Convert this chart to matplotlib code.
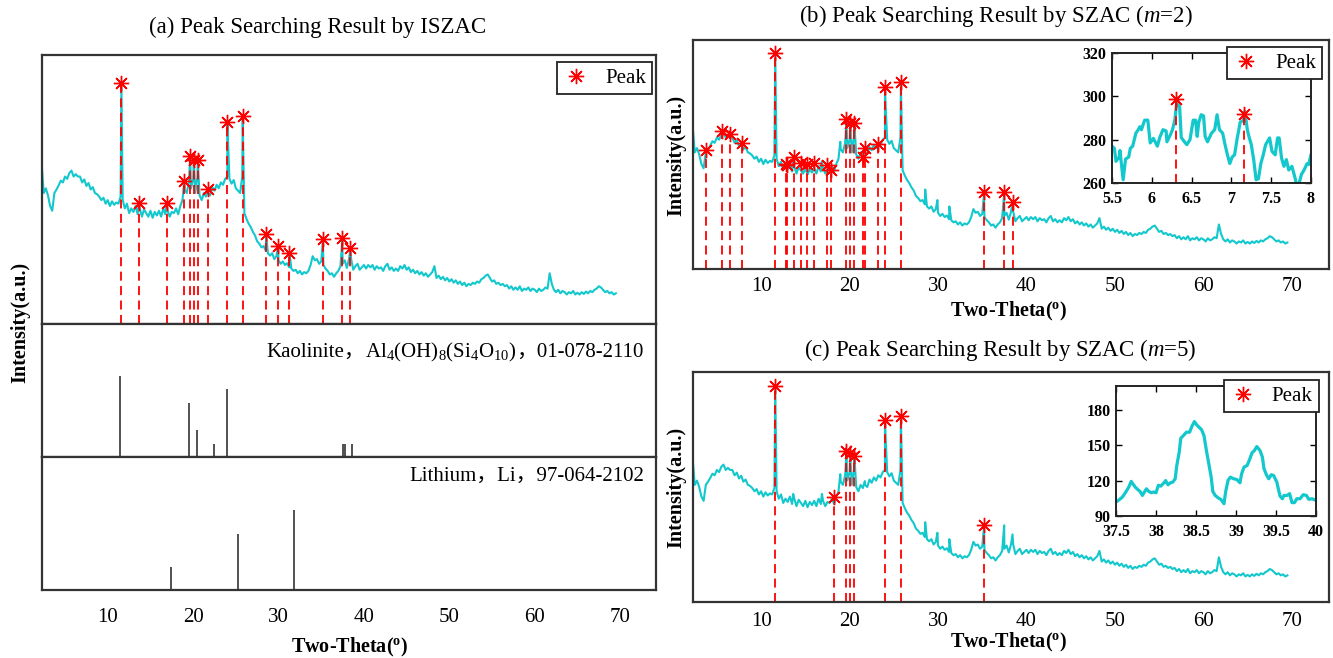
import numpy as np
import matplotlib
matplotlib.use("Agg")
import matplotlib.pyplot as plt
from matplotlib.offsetbox import TextArea, HPacker, AnchoredOffsetbox

plt.rcParams['font.family'] = ['Liberation Serif', 'Noto Sans CJK SC']
plt.rcParams['mathtext.fontset'] = 'custom'
plt.rcParams['mathtext.rm'] = 'Liberation Serif'
plt.rcParams['mathtext.it'] = 'Liberation Serif:italic'
plt.rcParams['mathtext.bf'] = 'Liberation Serif:bold'

# XRD pattern, 0.25 deg steps from 2.25 deg (one row per degree)
base_y = [
    314, 262, 270, 258,   240, 232, 262, 268,   275, 283, 280, 290,   286, 296, 300, 290,
    294, 290, 290, 280,   285, 274, 279, 268,   272, 262, 260, 256,   250, 254, 244, 250,
    240, 248, 242, 246,   244, 256, 250, 236,   244, 228, 236, 230,   240, 226, 236, 222,
    234, 228, 222, 232,   220, 230, 224, 232,   222, 236, 226, 232,   222, 230, 228, 236,
    226, 240, 250, 268,   262, 280, 270, 285,   262, 290, 258, 250,   262, 256, 262, 258,
    272, 266, 276, 270,   280, 276, 286, 290,   286, 278, 284, 270,   266, 262, 290, 228,
    218, 210, 204, 196,   190, 180, 176, 170,   172, 164, 160, 156,   160, 150, 155, 148,
    142, 146, 140, 143,   136, 134, 130, 132,   126, 130, 124, 128,   126, 130, 140, 155,
    148, 150, 142, 146,   140, 134, 130, 124,   126, 120, 126, 130,   138, 142, 148, 135,
    150, 150, 132, 138,   142, 132, 136, 140,   134, 140, 136, 140,   132, 138, 134, 136,
    130, 138, 142, 132,   136, 130, 134, 130,   138, 134, 140, 132,   136, 128, 132, 126,
    130, 124, 128, 122,   126, 120, 124, 128,   138, 118, 122, 116,   120, 114, 118, 112,
    116, 110, 114, 108,   112, 106, 110, 104,   108, 106, 110, 108,   112, 110, 116, 118,
    122, 124, 118, 112,   114, 108, 110, 106,   108, 104, 106, 100,   104, 98, 102, 98,
    104, 96, 100, 98,     102, 96, 100, 98,     94, 100, 96, 98,      102, 100, 126, 108,
    98, 94, 98, 92,       96, 94, 90, 94,       92, 96, 90, 93,       90, 94, 91, 95,
    92, 96, 94, 98,       100, 104, 102, 98,    94, 96, 92, 94,       90, 92,
]
theta = 2.25 + 0.25 * np.arange(len(base_y))

# peaks found by each method
peak_a_x = [11.6, 13.63, 16.88, 18.95, 19.65, 20.08, 20.54, 21.73, 24.0, 25.8,
            28.55, 29.93, 31.28, 35.2, 37.48, 38.42]
peak_a_y = [449, 245, 245, 282, 324, 318, 318, 269, 383, 393,
            192, 172, 160, 184, 186, 169]

peak_b_x = [3.79, 5.56, 6.44, 7.8, 11.6, 12.8, 12.95, 13.7, 14.5, 15.2, 16.0, 17.4,
            17.9, 19.65, 20.08, 20.54, 21.5, 21.73, 23.2, 24.0, 25.8, 35.2, 37.48, 38.42]
peak_b_y = [267, 303, 296, 279, 450, 240, 238, 253, 242, 240, 242, 238,
            229, 325, 318, 318, 254, 270, 277, 385, 394, 187, 187, 168]

peak_c_x = [11.6, 18.2, 19.65, 20.08, 20.54, 24.0, 25.8, 35.2]
peak_c_y = [448, 239, 325, 321, 317, 383, 392, 186]

# reference cards
kaol_x = [11.46, 19.48, 20.41, 22.42, 24.0, 37.57, 37.8, 38.55]
kaol_h = [61, 40.5, 20.5, 10, 51, 10, 10, 10]
li_x = [17.38, 25.22, 31.84]
li_h = [17, 42, 60.5]

# zoomed details
zoom_b_x = [5.5, 5.53, 5.55, 5.59, 5.6, 5.64, 5.67, 5.71, 5.73, 5.76, 5.8, 5.83, 5.85, 5.87,
            5.91, 5.95, 5.98, 6.02, 6.07, 6.1, 6.14, 6.18, 6.19, 6.23, 6.26, 6.29, 6.32,
            6.35, 6.37, 6.41, 6.44, 6.48, 6.52, 6.55, 6.57, 6.59, 6.62, 6.65, 6.67, 6.7,
            6.75, 6.79, 6.82, 6.85, 6.89, 6.92, 6.95, 6.98, 7.01, 7.04, 7.07, 7.11, 7.15,
            7.17, 7.2, 7.22, 7.25, 7.28, 7.31, 7.34, 7.37, 7.4, 7.43, 7.48, 7.51, 7.55,
            7.58, 7.6, 7.63, 7.66, 7.69, 7.72, 7.76, 7.8, 7.82, 7.85, 7.88, 7.91, 7.95,
            7.97, 8.0]
zoom_b_y = [277, 276, 270, 272, 275, 261.5, 271, 272, 276, 277, 283, 284.6, 286, 284.6,
            289, 289, 278.5, 280.6, 277, 281, 284.6, 284, 279, 282, 284.6, 289.2, 299.2,
            295, 281, 279, 277.7, 280, 289, 289, 281.5, 288, 291.5, 291, 281.5, 279,
            283, 284.6, 291.5, 284.6, 283, 277.7, 273, 269, 272, 273, 280, 288, 289,
            293, 284.6, 281.5, 277.7, 270.8, 261.5, 262, 269, 273, 277.7, 280.8, 274.6, 273,
            280.8, 280.8, 271.5, 267.7, 270.8, 266, 267.7, 262.3, 259, 259.8, 264, 265.8, 268.9,
            268.5, 273]
zoom_b_peak_x = [6.31, 7.16]
zoom_b_peak_y = [299, 292]

zoom_c_x = [37.5, 37.53, 37.58, 37.62, 37.66, 37.69, 37.71, 37.74, 37.77, 37.8, 37.83, 37.85,
            37.88, 37.91, 37.94, 37.97, 38.0, 38.03, 38.06, 38.1, 38.12, 38.15, 38.18, 38.21,
            38.24, 38.26, 38.29, 38.31, 38.35, 38.38, 38.42, 38.45, 38.48, 38.51, 38.55, 38.57,
            38.6, 38.63, 38.66, 38.69, 38.71, 38.74, 38.78, 38.81, 38.85, 38.87, 38.9, 38.93,
            38.97, 39.01, 39.05, 39.07, 39.1, 39.14, 39.17, 39.2, 39.23, 39.26, 39.3, 39.33,
            39.35, 39.38, 39.41, 39.44, 39.47, 39.51, 39.55, 39.58, 39.6, 39.64, 39.67, 39.7,
            39.73, 39.76, 39.8, 39.84, 39.88, 39.91, 39.95, 40.0]
zoom_c_y = [101.8, 103.2, 106, 110, 114.5, 119.3, 117.3, 114.5, 112.5, 110.8, 107.4, 109.7,
            113, 110.8, 109.7, 110.3, 109.7, 116, 115.3, 118.1, 120, 116.4, 118.1, 118.7,
            121.5, 132.8, 144, 155.8, 158.6, 160.9, 160.9, 166, 169.9, 167, 164.3, 163,
            158, 145.4, 134.2, 122.9, 110.8, 107.4, 105.2, 104.1, 100.4, 110.3, 120.1, 122.9,
            121.5, 120.9, 118.1, 125.7, 131.3, 132.8, 137.8, 143.4, 145.4, 148.8, 145.4, 139.8,
            130, 124.9, 121.5, 124.9, 124.3, 118.7, 106.9, 104.6, 107.4, 107.4, 108.9, 101.3,
            101.3, 104.6, 104.6, 108, 107.4, 104.1, 104.6, 103.2]

CYAN = '#12C8CC'
STAR = (8, 2, 0)
XLIM = (2.3, 74.2)
W, H = 1333, 658

# line through the measured points plus the sharp peak tops
line_x = np.concatenate([theta, peak_a_x])
line_y = np.concatenate([base_y, peak_a_y])
order = np.argsort(line_x, kind='stable')
line_x, line_y = line_x[order], line_y[order]

fig = plt.figure(figsize=(W / 100, H / 100), dpi=100)


def box(l, t, r, b):
    return [l / W, 1 - b / H, (r - l) / W, (b - t) / H]


def frame(ax, pad):
    for s in ax.spines.values():
        s.set_linewidth(1.6)
        s.set_color('#333333')
    ax.set_yticks([])
    ax.set_xticks([10, 20, 30, 40, 50, 60, 70])
    ax.tick_params(axis='x', length=0, labelsize=15, pad=pad)
    ax.set_xlim(*XLIM)


def pattern(ax, px, py, ylo, yhi, lw=1.5):
    ax.plot(line_x, line_y, color=CYAN, lw=lw)
    ax.vlines(px, ylo, py, colors='red', linestyles=(0, (5, 3)), lw=1.3)
    ax.plot(px, py, ls='none', marker=STAR, ms=11, mew=1.0, color='red', label='Peak')
    ax.set_ylim(ylo, yhi)


def peak_legend(ax, right, top):
    leg = ax.legend(loc='upper right', bbox_to_anchor=(right / W, 1 - top / H),
                    bbox_transform=fig.transFigure, borderaxespad=0, fontsize=15,
                    fancybox=False, edgecolor='#222222', framealpha=1,
                    handlelength=1.2, handletextpad=0.8, borderpad=0.3)
    leg.get_frame().set_linewidth(1.3)


def inset_style(ax, xt, xl, yt):
    ax.set_xticks(xt, labels=xl, fontweight='bold')
    ax.set_yticks(yt, labels=[str(v) for v in yt], fontweight='bold')
    ax.tick_params(direction='in', top=True, right=True, length=4, width=1,
                   labelsize=11.5)
    ax.tick_params(axis='x', pad=6)
    ax.tick_params(axis='y', pad=4)
    for s in ax.spines.values():
        s.set_linewidth(1.4)
        s.set_color('#222222')


# ---- (a) ----
ax_a = fig.add_axes(box(42, 55, 656, 324))
ax_k = fig.add_axes(box(42, 324, 656, 457))
ax_l = fig.add_axes(box(42, 457, 656, 590))
for ax in (ax_a, ax_k, ax_l):
    frame(ax, 13)
ax_a.tick_params(labelbottom=False)
ax_k.tick_params(labelbottom=False)

pattern(ax_a, peak_a_x, peak_a_y, 40, 496)
peak_legend(ax_a, 652, 62)

ax_k.vlines(kaol_x, 0, kaol_h, colors='#333333', lw=1.2)
ax_k.set_ylim(0, 100)
ax_l.vlines(li_x, 0, li_h, colors='#333333', lw=1.2)
ax_l.set_ylim(0, 100)

tp = dict(size=15)
kaol_text = HPacker(children=[TextArea('Kaolinite，', textprops=tp),
                              TextArea(r'Al$_4$(OH)$_8$(Si$_4$O$_{10}$)', textprops=tp),
                              TextArea('，01-078-2110', textprops=tp)],
                    align='baseline', pad=0, sep=0)
ax_k.add_artist(AnchoredOffsetbox(loc='center right', child=kaol_text, frameon=False,
                                  bbox_to_anchor=(644 / W, 1 - 352 / H),
                                  bbox_transform=fig.transFigure, pad=0, borderpad=0))
ax_l.text(644 / W, 1 - 476 / H, 'Lithium，Li，97-064-2102', transform=fig.transFigure,
          ha='right', va='center', fontsize=15)

ax_l.set_xlabel(r'Two-Theta($^{\mathbf{o}}$)', fontsize=14.5, fontweight='bold', va='center')
ax_l.xaxis.set_label_coords(350 / W, 1 - 647 / H, transform=fig.transFigure)
ax_k.set_ylabel('Intensity(a.u.)', fontsize=14.5, fontweight='bold', va='center')
ax_k.yaxis.set_label_coords(20 / W, 1 - 322 / H, transform=fig.transFigure)
fig.text(318 / W, 1 - 27 / H, '(a) Peak Searching Result by ISZAC', ha='center',
         va='center', fontsize=16.5)

# ---- (b) ----
ax_b = fig.add_axes(box(693, 40, 1329, 269))
frame(ax_b, 6)
pattern(ax_b, peak_b_x, peak_b_y, 42, 474)
ax_b.set_xlabel(r'Two-Theta($^{\mathbf{o}}$)', fontsize=14.5, fontweight='bold', va='center')
ax_b.xaxis.set_label_coords(1009 / W, 1 - 311 / H, transform=fig.transFigure)
ax_b.set_ylabel('Intensity(a.u.)', fontsize=14.5, fontweight='bold', va='center')
ax_b.yaxis.set_label_coords(676 / W, 1 - 155 / H, transform=fig.transFigure)
fig.text(996 / W, 1 - 16 / H, '(b) Peak Searching Result by SZAC ($m$=2)', ha='center',
         va='center', fontsize=16.5)

in_b = fig.add_axes(box(1112, 53, 1311, 183))
in_b.plot(zoom_b_x, zoom_b_y, color=CYAN, lw=2.3)
in_b.vlines(zoom_b_peak_x, 260, zoom_b_peak_y, colors='red', linestyles=(0, (5, 3)), lw=1.3)
in_b.plot(zoom_b_peak_x, zoom_b_peak_y, ls='none', marker=STAR, ms=11, mew=1.0,
          color='red', label='Peak')
in_b.set_xlim(5.5, 8)
in_b.set_ylim(260, 320)
inset_style(in_b, [5.5, 6, 6.5, 7, 7.5, 8], ['5.5', '6', '6.5', '7', '7.5', '8'],
            [260, 280, 300, 320])
peak_legend(in_b, 1322, 47)

# ---- (c) ----
ax_c = fig.add_axes(box(693, 372, 1329, 602))
frame(ax_c, 7)
pattern(ax_c, peak_c_x, peak_c_y, 42, 474)
ax_c.set_xlabel(r'Two-Theta($^{\mathbf{o}}$)', fontsize=14.5, fontweight='bold', va='center')
ax_c.xaxis.set_label_coords(1009 / W, 1 - 642 / H, transform=fig.transFigure)
ax_c.set_ylabel('Intensity(a.u.)', fontsize=14.5, fontweight='bold', va='center')
ax_c.yaxis.set_label_coords(676 / W, 1 - 487 / H, transform=fig.transFigure)
fig.text(1000 / W, 1 - 350 / H, '(c) Peak Searching Result by SZAC ($m$=5)', ha='center',
         va='center', fontsize=16.5)

in_c = fig.add_axes(box(1116, 386, 1316, 516))
in_c.plot(zoom_c_x, zoom_c_y, color=CYAN, lw=2.3)
in_c.plot([], [], ls='none', marker=STAR, ms=11, mew=1.0, color='red', label='Peak')
in_c.set_xlim(37.5, 40)
in_c.set_ylim(90, 200)
inset_style(in_c, [37.5, 38, 38.5, 39, 39.5, 40], ['37.5', '38', '38.5', '39', '39.5', '40'],
            [90, 120, 150, 180])
peak_legend(in_c, 1319, 380)

fig.savefig('out.png', dpi=100)
